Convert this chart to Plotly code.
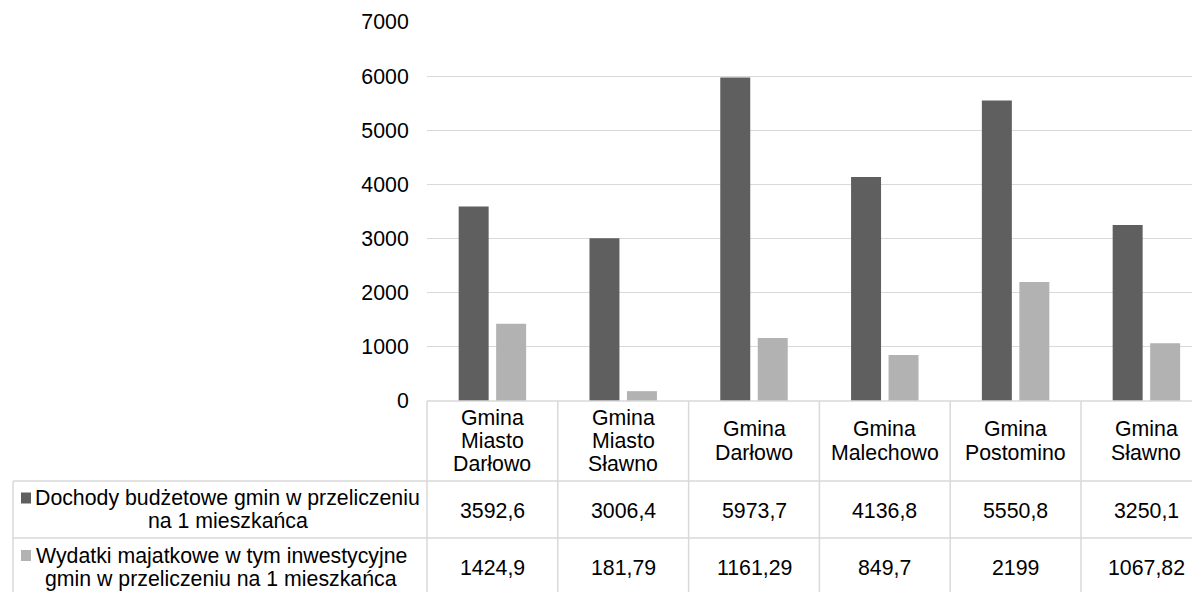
import plotly.graph_objects as go

# ---- data ----
categories = ["Gmina<br>Miasto<br>Darłowo", "Gmina<br>Miasto<br>Sławno", "Gmina<br>Darłowo",
              "Gmina<br>Malechowo", "Gmina<br>Postomino", "Gmina<br>Sławno"]
dochody = [3592.6, 3006.4, 5973.7, 4136.8, 5550.8, 3250.1]
wydatki = [1424.9, 181.79, 1161.29, 849.7, 2199, 1067.82]
series_names = ["Dochody budżetowe gmin w przeliczeniu<br>na 1 mieszkańca",
                "Wydatki majatkowe w tym inwestycyjne<br>gmin w przeliczeniu na 1 mieszkańca"]
y_ticks = [0, 1000, 2000, 3000, 4000, 5000, 6000, 7000]

# ---- style / layout ----
OFF = 8                      # page body margin
W, H = 1200, 592
L, T = 427 - OFF, 22 - OFF
R = 0
B = H - (401 - OFF)
PW, PH = W - L - R, H - T - B
colors = ["#5f5f5f", "#b2b2b2"]
line_col = "#d9d9d9"
FONT = "Liberation Sans, Arial, sans-serif"
FS = 21.3
LINE_H = 23
cat_w = 130.8
xmin = -0.5
xmax = xmin + PW / cat_w

def px(x):
    return (x - OFF - L) / PW

def py(y):
    return (H - B - (y - OFF)) / PH

fig = go.Figure()
fig.add_trace(go.Bar(x=categories, y=dochody, marker=dict(color=colors[0], line=dict(width=0)),
                     name=series_names[0].replace("<br>", " ")))
fig.add_trace(go.Bar(x=categories, y=wydatki, marker=dict(color=colors[1], line=dict(width=0)),
                     name=series_names[1].replace("<br>", " ")))

shapes = []
annotations = []

def hline(x0, x1, y):
    shapes.append(dict(type="line", xref="paper", yref="paper", x0=px(x0), x1=px(x1),
                       y0=py(y), y1=py(y), line=dict(color=line_col, width=1.5)))

def vline(x, y0, y1):
    shapes.append(dict(type="line", xref="paper", yref="paper", x0=px(x), x1=px(x),
                       y0=py(y0), y1=py(y1), line=dict(color=line_col, width=1.5)))

def text(s, x, y, xanchor="center"):
    annotations.append(dict(text=s, xref="paper", yref="paper", x=px(x), y=py(y),
                            xanchor=xanchor, yanchor="middle", showarrow=False,
                            font=dict(family=FONT, size=FS, color="#000000")))

def ml_text(s, x, yc):
    lines = s.split("<br>")
    n = len(lines)
    for i, ln in enumerate(lines):
        text(ln, x, yc + (i - (n - 1) / 2) * LINE_H)

row_top = 401
row1_top = 481
row2_top = 538
row_bot = 600
L0 = 427
right_end = L0 + cat_w * len(categories)

# table grid
hline(L0, right_end, row_top)
hline(13, right_end, row1_top)
hline(13, right_end, row2_top)
vline(13, row1_top, row_bot)
for k in range(len(categories) + 1):
    vline(L0 + k * cat_w, row_top, row_bot)

def fmt(v):
    return f"{v:g}".replace(".", ",")

for i, cat in enumerate(categories):
    xc = L0 + (i + 0.5) * cat_w
    ml_text(cat, xc, (row_top + row1_top) / 2)
    text(fmt(dochody[i]), xc, (row1_top + row2_top) / 2 + 1)
    text(fmt(wydatki[i]), xc, (row2_top + row_bot) / 2 - 1)

# legend cells
legend_centers = [227.5, 221]
row_centers = [(row1_top + row2_top) / 2, (row2_top + row_bot) / 2 - 2]
for j in range(2):
    ml_text(series_names[j], legend_centers[j], row_centers[j])
    ky = row_centers[j] - LINE_H / 2
    shapes.append(dict(type="rect", xref="paper", yref="paper", x0=px(21), x1=px(31),
                       y0=py(ky - 5.5), y1=py(ky + 5.5), fillcolor=colors[j],
                       line=dict(width=0)))

fig.update_layout(
    width=W, height=H,
    margin=dict(l=L, r=R, t=T, b=B, autoexpand=False),
    paper_bgcolor="white", plot_bgcolor="white",
    barmode="group", bargap=0.427, bargroupgap=0.2,
    showlegend=False,
    font=dict(family=FONT, size=FS, color="#000000"),
    xaxis=dict(type="category", range=[xmin, xmax], showticklabels=False, showgrid=False,
               showline=False, zeroline=False, ticks=""),
    yaxis=dict(range=[0, 7000], tickvals=y_ticks, ticktext=[str(v) for v in y_ticks],
               showgrid=True, gridcolor=line_col, gridwidth=1, zeroline=False, showline=False,
               ticks="outside", ticklen=13, tickcolor="rgba(0,0,0,0)",
               tickfont=dict(family=FONT, size=FS, color="#000000")),
    shapes=shapes,
    annotations=annotations,
)

fig.write_html("out.html")
